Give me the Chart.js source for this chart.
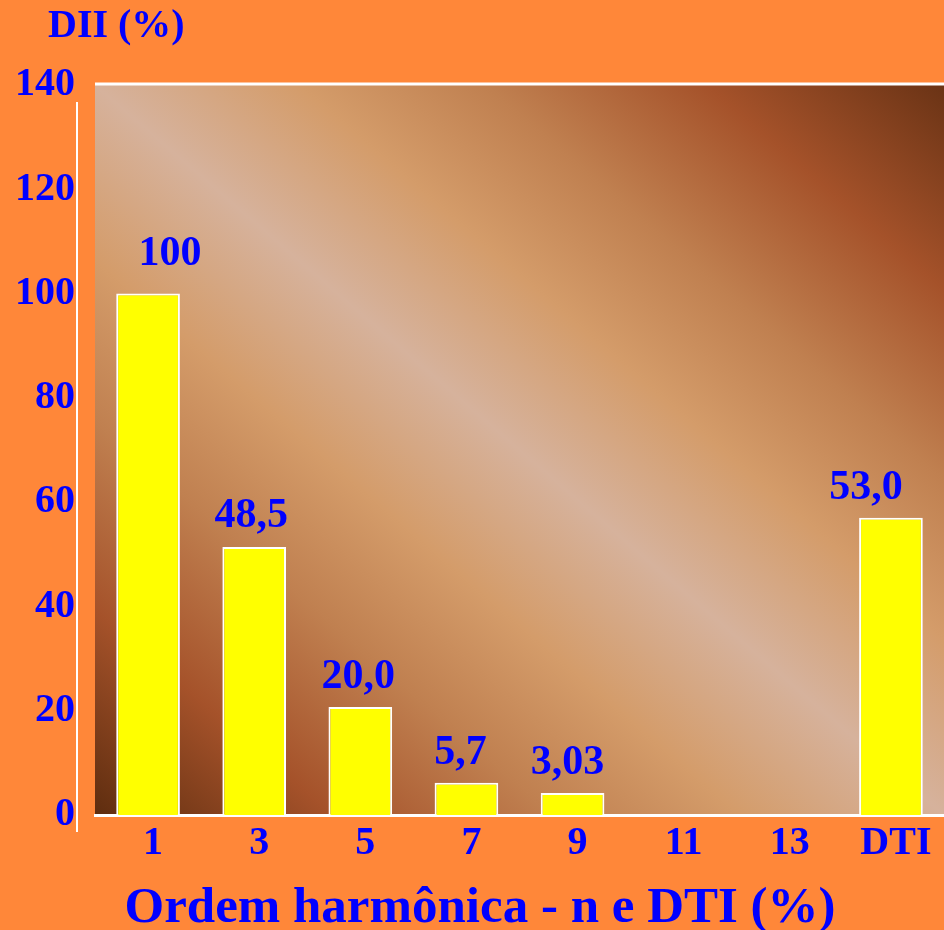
<!DOCTYPE html>
<html>
<head>
<meta charset="utf-8">
<script src="https://cdn.jsdelivr.net/npm/chart.js@4/dist/chart.umd.min.js"></script>
<style>
    html, body { margin: 0; padding: 0; background: #FF8739; }
    #wrap { width: 944px; height: 930px; }
</style>
</head>
<body>
<div id="wrap"><canvas id="chart-harmonicas"></canvas></div>
<script>
// Ordem harmônica e DTI
const categorias = ['1', '3', '5', '7', '9', '11', '13', 'DTI'];
const valores = [100, 51.4, 20.7, 6.2, 4.2, 0, 0, 57.0];
const rotulos = ['100', '48,5', '20,0', '5,7', '3,03', '', '', '53,0'];
const ticksY = [0, 20, 40, 60, 80, 100, 120, 140];
const tituloY = 'DII (%)';
const tituloX = 'Ordem harmônica - n e DTI (%)';

const fonte = "'Liberation Serif', 'Times New Roman', serif";
const azul = '#0000FF';

// fundo laranja + degradê diagonal na área do gráfico
const fundoPlugin = {
    id: 'fundo',
    beforeDraw(chart) {
        const ctx = chart.ctx;
        const a = chart.chartArea;
        ctx.save();
        ctx.fillStyle = '#FF8739';
        ctx.fillRect(0, 0, chart.width, chart.height);

        const w = a.right - a.left;
        const h = a.bottom - a.top;
        const cx = a.left + w / 2;
        const cy = a.top + h / 2;
        const L = Math.sqrt(w * w + h * h);
        const dx = h / L, dy = -w / L;
        const k = w * h / L;
        const g = ctx.createLinearGradient(cx - dx * k, cy - dy * k, cx + dx * k, cy + dy * k);
        g.addColorStop(0.00, '#5E2D0F');
        g.addColorStop(0.14, '#A5522A');
        g.addColorStop(0.27, '#C08050');
        g.addColorStop(0.38, '#D49C6A');
        g.addColorStop(0.50, '#D6B29C');
        g.addColorStop(0.62, '#D49C6A');
        g.addColorStop(0.73, '#C08050');
        g.addColorStop(0.86, '#A5522A');
        g.addColorStop(1.00, '#6A3315');
        ctx.fillStyle = g;
        ctx.fillRect(a.left, a.top, w, h);
        ctx.restore();
    },
    afterDraw(chart) {
        const ctx = chart.ctx;
        const a = chart.chartArea;
        ctx.save();
        ctx.strokeStyle = '#FFFFFF';
        // linha superior
        ctx.lineWidth = 3;
        ctx.beginPath();
        ctx.moveTo(a.left, a.top - 1);
        ctx.lineTo(a.right, a.top - 1);
        ctx.stroke();
        // eixo vertical deslocado
        ctx.lineWidth = 2;
        ctx.beginPath();
        ctx.moveTo(a.left - 18, a.top + 17);
        ctx.lineTo(a.left - 18, a.bottom + 17);
        ctx.stroke();

        // títulos
        ctx.fillStyle = azul;
        ctx.textBaseline = 'alphabetic';
        ctx.textAlign = 'left';
        ctx.font = 'bold 40px ' + fonte;
        ctx.fillText(tituloY, 48, 37);
        ctx.textAlign = 'center';
        ctx.font = 'bold 51px ' + fonte;
        ctx.fillText(tituloX, 480, 922);
        ctx.restore();
    }
};

// rótulos sobre as barras
const rotulosPlugin = {
    id: 'rotulos',
    afterDatasetsDraw(chart, args, opts) {
        const ctx = chart.ctx;
        const meta = chart.getDatasetMeta(0);
        ctx.save();
        ctx.font = 'bold 42px ' + fonte;
        ctx.fillStyle = azul;
        ctx.textAlign = 'center';
        ctx.textBaseline = 'alphabetic';
        meta.data.forEach((bar, i) => {
            if (!rotulos[i]) return;
            const s = opts.desloc[i] || [0, 0];
            ctx.fillText(rotulos[i], bar.x + s[0], bar.y - 19 + s[1]);
        });
        ctx.restore();
    }
};

new Chart(document.getElementById('chart-harmonicas'), {
    type: 'bar',
    data: {
        labels: categorias,
        datasets: [{
            data: valores,
            backgroundColor: '#FFFF00',
            borderColor: '#FFFFFF',
            borderWidth: 2,
            categoryPercentage: 1.0,
            barPercentage: 0.6
        }]
    },
    options: {
        responsive: true,
        maintainAspectRatio: false,
        animation: false,
        layout: { padding: { left: 0, right: 0, top: 85, bottom: 0 } },
        plugins: {
            legend: { display: false },
            tooltip: { enabled: false },
            rotulos: {
                desloc: [[22, -10], [-3, -1], [-2, 0], [-6, 0], [-5, 0], [0, 0], [0, 0], [-25, 0]]
            }
        },
        scales: {
            x: {
                grid: { display: false, drawTicks: false },
                border: { display: true, color: '#FFFFFF', width: 3 },
                ticks: {
                    color: azul,
                    padding: 5,
                    labelOffset: 5,
                    font: { family: fonte, size: 40, weight: 'bold' }
                },
                afterFit(scale) { scale.height = 115; }
            },
            y: {
                min: 0,
                max: 140,
                grid: { display: false, drawTicks: false },
                border: { display: false },
                afterBuildTicks(scale) {
                    scale.ticks = ticksY.map(v => ({ value: v }));
                },
                ticks: {
                    color: azul,
                    padding: 20,
                    font: { family: fonte, size: 40, weight: 'bold' }
                },
                afterFit(scale) { scale.width = 95; }
            }
        }
    },
    plugins: [fundoPlugin, rotulosPlugin]
});
</script>
</body>
</html>
